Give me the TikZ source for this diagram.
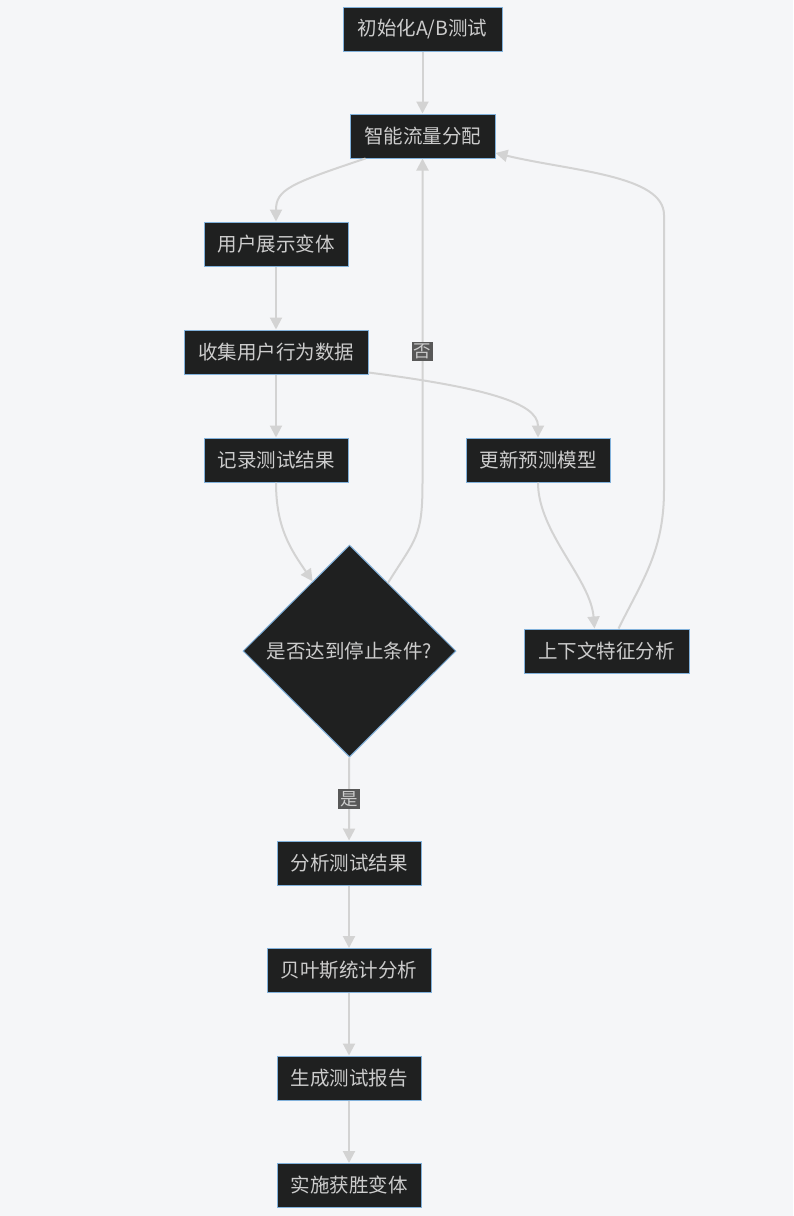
\documentclass[tikz,border=0pt]{standalone}
\usepackage{fontspec}
\setmainfont{Noto Sans CJK SC}
\usetikzlibrary{arrows.meta,calc,positioning,shapes.geometric}
\definecolor{FlowPaper}{HTML}{F5F6F8}
\definecolor{FlowInk}{HTML}{1F2020}
\definecolor{FlowRim}{HTML}{81B1DB}
\definecolor{FlowText}{HTML}{CCCCCC}
\definecolor{FlowLine}{HTML}{D3D3D3}
\definecolor{FlowTag}{HTML}{585858}

\begin{document}
\begin{tikzpicture}[x=1pt,y=-1pt,
  font=\fontsize{19.5}{22}\selectfont,
  node distance=62.5pt,
  box/.style={draw=FlowRim, line width=1pt, fill=FlowInk, text=FlowText,
    minimum height=44pt, inner sep=0pt},
  decision/.style={diamond, aspect=1, draw=FlowRim, line width=1pt, fill=FlowInk,
    text=FlowText, minimum width=213pt, minimum height=212pt, inner sep=0pt},
  flow/.style={draw=FlowLine, line width=2pt, -{Triangle[length=12pt,width=12pt]}},
  tag/.style={fill=FlowTag, text=FlowText, inner sep=2pt, font=\fontsize{17.5}{19}\selectfont}]
  \fill[FlowPaper] (0,0) rectangle (793,1216);

  \node[box, minimum width=159pt] (init) at (422.5,29.5) {初始化A/B测试};
  \node[box, minimum width=145pt] (alloc) at (422.5,136) {智能流量分配};
  \node[box, minimum width=144pt] (show) at (276,244) {用户展示变体};
  \node[box, minimum width=184pt] (collect) at (276,352) {收集用户行为数据};
  \node[box, minimum width=144pt] (record) at (276,460) {记录测试结果};
  \node[box, minimum width=144pt] (update) at (538,460) {更新预测模型};
  \node[decision] (stop) at (349.5,651) {是否达到停止条件?};
  \node[box, minimum width=165pt] (context) at (606.5,651) {上下文特征分析};
  \node[box, minimum width=144pt] (analyse) at (349,863) {分析测试结果};
  \node[box, minimum width=164pt, below=of analyse] (bayes) {贝叶斯统计分析};
  \node[box, minimum width=144pt, below=of bayes] (report) {生成测试报告};
  \node[box, minimum width=144pt, below=of report] (deploy) {实施获胜变体};

  \coordinate (rise) at (664,490);
  \coordinate (turn) at (664,215);

  \draw[flow] (init) -- (alloc);
  \draw[flow] ($(alloc.south)+(-57,0)$) .. controls +(-75,25) and +(0,-32) .. (show.north);
  \draw[flow] (show) -- (collect);
  \draw[flow] (collect) -- (record);
  \draw[flow] ($(collect.south east)+(0,-2)$) .. controls +(115,15) and +(0,-35) .. (update.north);
  \draw[flow] (record.south) .. controls +(0,45) and +(-22,-32) .. ($(stop.north)!0.345!(stop.west)$);
  \draw[flow] ($(stop.north)!0.36!(stop.east)$) .. controls +(28,-45) and +(0,55) .. (alloc.south |- record.south)
    -- node[tag, pos=0.405] {否} (alloc.south);
  \draw[flow] (update.south) .. controls +(0,50) and +(-4,-50) .. ($(context.north)+(-12,0)$);
  \draw[flow] ($(context.north)+(12,0)$) .. controls +(25,-50) and +(0,60) .. (rise) -- (turn)
    .. controls +(0,-40) and +(75,18) .. ($(alloc.east)+(0,17)$);
  \draw[flow] (stop) -- node[tag] {是} (analyse);
  \draw[flow] (analyse) -- (bayes);
  \draw[flow] (bayes) -- (report);
  \draw[flow] (report) -- (deploy);
\end{tikzpicture}
\end{document}
